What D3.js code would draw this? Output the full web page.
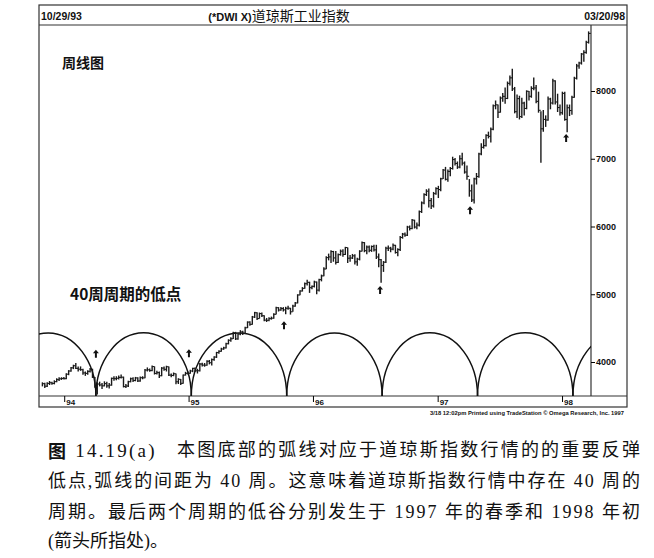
<!DOCTYPE html>
<html>
<head>
<meta charset="utf-8">
<script src="https://cdn.jsdelivr.net/npm/d3@7"></script>
<style>
  body { margin: 0; background: #fff; }
  svg text { fill: #111; }
</style>
</head>
<body>
<div id="chart"></div>
<script>
// weekly DJIA bars, first bar is the week ending 10/29/93
const firstWeek = "1993-10-29";

const weekHigh = [
  3700,3695,3700,3720,3710,3730,3760,3775,3775,3780,
  3835,3880,3925,3960,3985,3935,3935,3900,3860,3880,
  3910,3900,3780,3700,3710,3690,3715,3710,3690,3770,
  3790,3790,3800,3815,3785,3675,3725,3770,3775,3780,
  3775,3785,3790,3895,3920,3905,3950,3935,3870,3860,
  3925,3935,3945,3935,3830,3845,3830,3760,3750,3815,
  3855,3860,3885,3915,3920,3900,3985,3990,3985,4025,
  4030,4050,4085,4150,4175,4210,4225,4285,4335,4365,
  4445,4445,4425,4470,4460,4520,4600,4600,4680,4740,
  4735,4730,4730,4690,4650,4660,4670,4720,4815,4810,
  4810,4810,4815,4830,4800,4845,4885,5000,5060,5105,
  5175,5215,5185,5130,5200,5190,5230,5290,5400,5560,
  5600,5650,5640,5640,5600,5660,5665,5700,5690,5580,
  5595,5590,5540,5650,5780,5770,5720,5720,5720,5730,
  5730,5600,5520,5490,5700,5720,5700,5750,5730,5680,
  5860,5905,5910,6010,6015,6110,6100,6060,6235,6370,
  6490,6550,6560,6420,6510,6580,6600,6720,6850,6880,
  6840,6880,7030,7010,6960,7050,7090,6960,6900,6700,
  6620,6720,6790,7090,7230,7290,7360,7400,7460,7800,
  7860,7800,7920,7970,8050,8140,8230,8330,8060,7950,
  7930,7900,7840,8010,8000,8070,8200,8090,7990,7700,
  7720,7640,7920,7900,8180,8160,7960,7800,7990,7990,
  7800,7800,7930,8210,8400,8430,8560,8600,8740,8880
];

const weekLow = [
  3640,3615,3630,3660,3665,3670,3700,3720,3735,3740,
  3745,3805,3855,3895,3895,3860,3870,3810,3795,3810,
  3845,3765,3620,3520,3640,3600,3640,3620,3610,3650,
  3725,3730,3740,3755,3625,3615,3630,3700,3705,3715,
  3705,3710,3745,3760,3860,3855,3865,3815,3815,3765,
  3790,3870,3860,3795,3775,3790,3670,3675,3660,3680,
  3800,3815,3825,3850,3855,3830,3860,3935,3930,3945,
  3965,3950,4020,4060,4120,4150,4180,4200,4260,4300,
  4340,4325,4330,4395,4400,4415,4500,4535,4550,4650,
  4620,4640,4665,4600,4590,4600,4625,4640,4700,4745,
  4755,4745,4705,4770,4700,4740,4815,4865,4985,5040,
  5080,5130,5020,5075,5100,5000,5040,5190,5265,5370,
  5500,5460,5480,5440,5460,5570,5555,5580,5460,5480,
  5520,5440,5420,5500,5630,5620,5590,5620,5625,5630,
  5520,5400,5170,5330,5460,5640,5620,5650,5600,5560,
  5640,5820,5850,5860,5940,5960,5970,5960,6000,6200,
  6330,6450,6280,6260,6280,6470,6420,6520,6700,6680,
  6660,6740,6840,6900,6850,6860,6900,6780,6690,6440,
  6360,6340,6620,6720,7050,7150,7180,7300,7240,7420,
  7730,7600,7680,7840,7810,7880,8080,8000,7670,7600,
  7580,7600,7640,7730,7860,7900,8010,7820,7680,6940,
  7400,7470,7560,7730,7800,7800,7690,7640,7650,7560,
  7390,7630,7650,7900,8170,8330,8390,8430,8550,8700
];

const weekClose = [
  3680,3643,3684,3694,3684,3710,3740,3752,3757,3754,
  3820,3867,3914,3945,3906,3894,3887,3839,3832,3862,
  3895,3774,3636,3675,3661,3648,3681,3648,3659,3759,
  3754,3760,3772,3776,3637,3646,3709,3753,3727,3765,
  3720,3768,3766,3881,3885,3874,3933,3831,3843,3797,
  3910,3892,3930,3807,3801,3827,3708,3745,3685,3807,
  3833,3834,3867,3906,3870,3871,3970,3954,3953,4011,
  3989,4035,4073,4139,4158,4192,4208,4270,4321,4343,
  4430,4341,4412,4444,4423,4505,4589,4556,4664,4727,
  4641,4715,4683,4618,4615,4640,4647,4704,4801,4767,
  4789,4769,4793,4794,4741,4825,4871,4989,5048,5087,
  5156,5176,5097,5117,5181,5061,5216,5271,5373,5541,
  5551,5630,5536,5470,5585,5636,5587,5689,5532,5535,
  5567,5478,5518,5635,5762,5643,5697,5649,5705,5655,
  5550,5510,5426,5473,5680,5681,5666,5723,5616,5660,
  5838,5888,5872,5992,5970,6094,5992,6021,6219,6348,
  6471,6521,6382,6304,6485,6560,6545,6704,6833,6697,
  6813,6856,6988,6931,6877,7000,6936,6804,6741,6526,
  6392,6703,6738,7071,7169,7194,7345,7331,7436,7782,
  7796,7687,7896,7921,7890,8113,8194,8031,7695,7887,
  7622,7822,7742,7996,7922,8039,8045,7847,7715,7442,
  7581,7572,7882,7823,8149,7838,7756,7679,7965,7580,
  7753,7712,7907,8189,8370,8413,8546,8570,8719,8850
];

const priceTicks = [4000, 5000, 6000, 7000, 8000];
const yearTicks = ["1994-01-01", "1995-01-01", "1996-01-01", "1997-01-01", "1998-01-01"];
const yearLabels = ["94", "95", "96", "97", "98"];

// 40 week cycle lows (bottoms of the arcs)
const cycleLows = ["1994-04-04", "1995-01-09", "1995-10-16", "1996-07-22", "1997-04-28", "1998-02-02"];
const cycleWeeks = 40;
const arcTopPrice = 4430;

const arrowDates = ["1994-04-04", "1995-01-02", "1995-10-08", "1996-07-16", "1997-04-06", "1998-01-13"];
const arrowPrices = [4180, 4190, 4600, 5120, 6300, 7365];

const captionLines = [
  "本图底部的弧线对应于道琼斯指数行情的的重要反弹",
  "低点,弧线的间距为 40 周。这意味着道琼斯指数行情中存在 40 周的",
  "周期。最后两个周期的低谷分别发生于 1997 年的春季和 1998 年初",
  "(箭头所指处)。"
];

const W = 654, H = 558;
const frame = {left: 39, right: 627, top: 5, bottom: 407};
const plot = {left: 39, right: 591, top: 25, bottom: 396};
const parse = d3.utcParse("%Y-%m-%d");
const latin = "'Liberation Sans', Arial, sans-serif";
const cjk = "'Noto Sans CJK SC', sans-serif";
const capFont = "'Liberation Serif', 'Noto Sans CJK SC', serif";

const svg = d3.select("#chart").append("svg")
    .attr("width", W)
    .attr("height", H);

const x = d3.scaleUtc()
    .domain([parse("1993-10-19"), parse("1998-03-27")])
    .range([plot.left, plot.right]);

const y = d3.scaleLinear()
    .domain([4000, 8000])
    .range([362, 91]);

const start = parse(firstWeek);
const bars = weekClose.map((c, i) => ({
  date: d3.utcDay.offset(start, 7 * i),
  high: weekHigh[i],
  low: weekLow[i],
  close: c
}));

// frame, title strip and axes lines
svg.append("rect")
    .attr("x", frame.left).attr("y", frame.top)
    .attr("width", frame.right - frame.left)
    .attr("height", frame.bottom - frame.top)
    .attr("fill", "none").attr("stroke", "#333").attr("stroke-width", 1.2);

svg.append("line")
    .attr("x1", frame.left).attr("x2", frame.right)
    .attr("y1", plot.top).attr("y2", plot.top)
    .attr("stroke", "#333").attr("stroke-width", 1.2);

svg.append("line")
    .attr("x1", frame.left).attr("x2", frame.right)
    .attr("y1", plot.bottom).attr("y2", plot.bottom)
    .attr("stroke", "#333").attr("stroke-width", 1.2);

// title strip texts
svg.append("text")
    .attr("x", frame.left + 2).attr("y", 20)
    .style("font", `bold 10.5px ${latin}`)
    .text("10/29/93");

svg.append("text")
    .attr("x", frame.right - 2).attr("y", 20)
    .attr("text-anchor", "end")
    .style("font", `bold 10.5px ${latin}`)
    .text("03/20/98");

const title = svg.append("text")
    .attr("x", 279).attr("y", 21)
    .attr("text-anchor", "middle");
title.append("tspan").style("font", `bold 11px ${latin}`).text("(*DWI X)");
title.append("tspan").style("font", `14px ${cjk}`).text("道琼斯工业指数");

// price axis on the right
const yAxis = svg.append("g")
    .attr("transform", `translate(${plot.right},0)`)
    .call(d3.axisRight(y).tickValues(priceTicks).tickFormat(d3.format("d"))
      .tickSize(4).tickPadding(1).tickSizeOuter(0));
yAxis.select(".domain")
    .attr("d", `M0,${plot.top}V${plot.bottom}`)
    .attr("stroke", "#333").attr("stroke-width", 1.2);
yAxis.selectAll("text")
    .style("font", `bold 9px ${latin}`)
    .attr("fill", "#111");

// year axis
const xAxis = svg.append("g")
    .attr("transform", `translate(0,${plot.bottom})`)
    .call(d3.axisBottom(x).tickValues(yearTicks.map(parse)).tickSize(6).tickFormat((d, i) => yearLabels[i]));
xAxis.select(".domain").remove();
xAxis.selectAll("text")
    .attr("text-anchor", "start")
    .attr("x", 1.5).attr("y", 3.5)
    .style("font", `bold 8px ${latin}`)
    .attr("fill", "#111");

svg.append("text")
    .attr("x", 624).attr("y", 415)
    .attr("text-anchor", "end")
    .attr("textLength", 194)
    .attr("lengthAdjust", "spacingAndGlyphs")
    .style("font", `bold 6px ${latin}`)
    .text("3/18 12:02pm Printed using TradeStation © Omega Research, Inc. 1997");

// plot area
svg.append("clipPath")
    .attr("id", "plot-clip")
  .append("rect")
    .attr("x", plot.left).attr("y", plot.top)
    .attr("width", plot.right - plot.left)
    .attr("height", plot.bottom - plot.top);

const g = svg.append("g").attr("clip-path", "url(#plot-clip)");

// 40 week cycle arcs
const lows = cycleLows.map(parse);
const bounds = [d3.utcDay.offset(lows[0], -7 * cycleWeeks)]
    .concat(lows)
    .concat([d3.utcDay.offset(lows[lows.length - 1], 7 * cycleWeeks)]);
const ry = plot.bottom - y(arcTopPrice);

g.selectAll("path.arc")
    .data(d3.pairs(bounds))
    .enter()
    .append("path")
    .attr("class", "arc")
    .attr("d", d => {
      const x0 = x(d[0]), x1 = x(d[1]);
      const rx = (x1 - x0) / 2;
      return `M${x0},${plot.bottom} A${rx},${ry} 0 0 1 ${x1},${plot.bottom}`;
    })
    .attr("fill", "none")
    .attr("stroke", "#111")
    .attr("stroke-width", 1.5);

// weekly bars
g.selectAll("line.hl")
    .data(bars)
    .enter()
    .append("line")
    .attr("class", "hl")
    .attr("x1", d => x(d.date)).attr("x2", d => x(d.date))
    .attr("y1", d => y(d.high)).attr("y2", d => y(d.low))
    .attr("stroke", "#1a1a1a")
    .attr("stroke-width", 1.4);

g.selectAll("line.cl")
    .data(bars)
    .enter()
    .append("line")
    .attr("class", "cl")
    .attr("x1", d => x(d.date)).attr("x2", d => x(d.date) + 2.2)
    .attr("y1", d => y(d.close)).attr("y2", d => y(d.close))
    .attr("stroke", "#1a1a1a")
    .attr("stroke-width", 1.1);

// arrows under the cycle lows
g.selectAll("path.arrow")
    .data(arrowDates.map((d, i) => ({date: parse(d), price: arrowPrices[i]})))
    .enter()
    .append("path")
    .attr("class", "arrow")
    .attr("transform", d => `translate(${x(d.date)},${y(d.price)})`)
    .attr("d", "M0,0 L3,3.5 L1,3.5 L1,8 L-1,8 L-1,3.5 L-3,3.5 Z")
    .attr("fill", "#111");

// chart notes
svg.append("text")
    .attr("x", 62).attr("y", 62)
    .attr("dominant-baseline", "central")
    .style("font", `bold 14px ${cjk}`)
    .text("周线图");

svg.append("text")
    .attr("x", 70).attr("y", 293)
    .attr("dominant-baseline", "central")
    .style("font", `bold 15.5px ${cjk}`)
    .text("40周周期的低点");

// caption below the chart
const capY = [450, 481, 512, 541];
const cap1 = svg.append("text")
    .attr("x", 48).attr("y", capY[0])
    .attr("dominant-baseline", "central")
    .attr("textLength", 592)
    .attr("lengthAdjust", "spacing");
cap1.append("tspan").style("font", `bold 18px ${cjk}`).text("图");
cap1.append("tspan").style("font", `19px ${capFont}`).text(" 14.19(a)");
cap1.append("tspan").style("font", `18px ${capFont}`).text("　" + captionLines[0]);

captionLines.slice(1).forEach((line, i) => {
  const t = svg.append("text")
      .attr("x", 48).attr("y", capY[i + 1])
      .attr("dominant-baseline", "central")
      .style("font", `18px ${capFont}`)
      .text(line);
  if (i < 2) t.attr("textLength", 592).attr("lengthAdjust", "spacing");
});
</script>
</body>
</html>
